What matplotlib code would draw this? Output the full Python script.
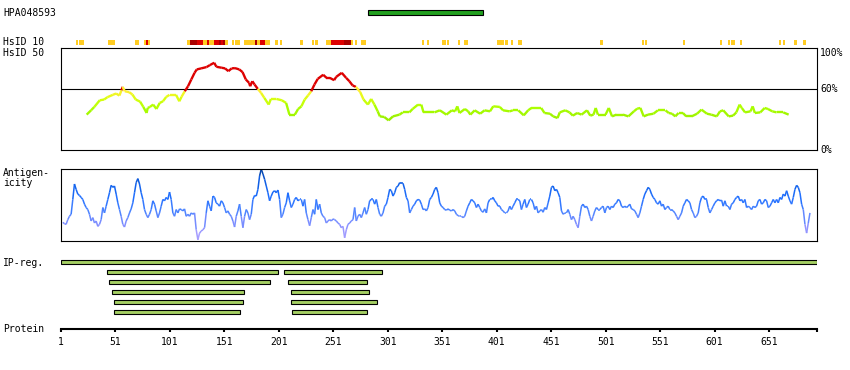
import numpy as np
import matplotlib
matplotlib.use('Agg')
import matplotlib.pyplot as plt
from matplotlib.collections import LineCollection
from matplotlib.colors import LinearSegmentedColormap

# ==========================================
# DATA
# ==========================================
protein_len = 695
antigen_name = 'HPA048593'
antigen_start, antigen_end = 283, 388

# HsID 10 track: segments (start, end, level) 1=yellow 2=red 3=dark red
h10_start = [15, 17.5, 44, 69, 77, 79, 81, 117, 119, 126, 131, 135, 137, 141, 146, 148, 150, 152,
             158, 161, 169, 179, 181, 184, 188, 197.5, 202, 220, 231, 234,
             244, 249, 261, 267, 271, 276, 332, 337, 351, 355.4, 365.5, 371, 401, 408.6, 414, 420.6,
             496, 534.5, 537.3, 572, 606, 613.4, 616, 624.4, 660, 664, 674, 682]
h10_end = [16.6, 22, 51, 73, 79, 81, 83, 119, 126, 131, 135, 137, 141, 146, 148, 150, 152, 154,
           160, 165, 179, 181, 184, 188, 193, 200, 204, 223, 233, 237,
           249, 261, 267, 269, 273, 281, 334, 339, 354.5, 357, 367.3, 375, 407.6, 411.3, 416, 424.3,
           498.6, 536.4, 539, 574, 608, 615.2, 620, 626.2, 662, 666, 677, 685]
h10_level = [1, 1, 1, 1, 1, 2, 1, 1, 3, 2, 1, 2, 1, 2, 3, 2, 3, 1,
             1, 1, 1, 3, 1, 2, 1, 1, 1, 1, 1, 1,
             1, 2, 3, 1, 1, 1, 1, 1, 1, 1, 1, 1, 1, 1, 1, 1,
             1, 1, 1, 1, 1, 1, 1, 1, 1, 1, 1, 1]

# HsID 50 curve (% identity)
h50_res = [25, 29, 32, 37, 41, 44, 49, 52, 55, 57, 58, 60, 64, 67, 70, 74, 77, 80, 81, 83,
           86, 89, 92, 95, 98, 101, 107, 110, 112, 115, 118, 121, 124, 126, 130, 135, 138, 142, 144, 149,
           152, 155, 158, 161, 165, 168, 171, 174, 175, 177, 179, 182, 185, 188, 192, 194, 199, 204, 208, 211,
           216, 219, 222, 225, 228, 231, 234, 237, 242, 245, 248, 252, 254, 259, 263, 266, 269, 272, 276, 279,
           283, 286, 289, 292, 294, 298, 302, 306, 312, 315, 321, 324, 329, 332, 334, 340,
           344, 349, 355, 360, 363, 365, 367, 372, 375, 377, 381, 386, 390, 395, 398, 404, 407, 413, 416, 421,
           426, 430, 433, 438, 442, 445, 450, 453, 457, 459, 464, 468, 471, 475, 479, 484, 487, 490, 492, 494,
           501, 504, 507, 511, 517, 522, 527, 530, 533, 536, 540, 545, 549, 556, 559, 562, 565, 568, 572, 575,
           580, 585, 589, 594, 598, 603, 606, 609, 614, 618, 621, 624, 626, 629, 634, 636, 638, 643, 647, 650,
           654, 658, 664, 669]
h50_pct = [35.0, 39.2, 42.5, 49.0, 49.7, 52.0, 54.3, 55.6, 53.6, 58.8, 62.1, 57.8, 56.9, 54.6, 49.7, 47.7, 42.5, 36.6, 41.5, 42.5,
           44.8, 40.5, 46.4, 48.0, 52.3, 54.3, 54.3, 48.0, 52.3, 57.8, 62.7, 69.3, 75.8, 79.1, 80.1, 81.4, 83.3, 85.6, 81.7, 80.7,
           80.1, 77.4, 80.1, 80.4, 79.1, 76.5, 69.3, 66.0, 62.7, 67.6, 64.4, 60.1, 56.2, 51.3, 44.8, 50.3, 50.3, 49.0, 46.4, 35.0,
           35.0, 40.5, 43.1, 49.7, 53.6, 57.8, 64.4, 69.9, 73.9, 70.9, 70.9, 68.6, 71.9, 75.8, 70.9, 67.6, 63.4, 62.1, 56.9, 49.7,
           44.8, 50.3, 44.8, 38.2, 33.3, 32.7, 29.4, 33.3, 35.0, 37.2, 37.2, 40.5, 44.8, 44.8, 37.2, 37.2,
           37.2, 39.2, 35.0, 39.2, 38.2, 43.1, 36.6, 40.5, 38.2, 35.0, 39.2, 35.9, 39.2, 38.2, 43.1, 42.5, 39.2, 38.2, 39.2, 39.2,
           34.3, 39.2, 41.5, 41.5, 41.5, 36.6, 35.9, 33.3, 31.7, 37.2, 39.2, 37.2, 34.0, 36.6, 35.0, 39.2, 34.0, 35.0, 41.5, 35.0,
           35.0, 41.5, 33.3, 35.0, 35.0, 33.3, 38.2, 40.8, 41.5, 33.3, 35.0, 35.9, 39.2, 39.2, 36.6, 35.9, 33.3, 36.6, 36.6, 33.3,
           33.3, 35.9, 39.9, 35.9, 35.0, 33.3, 38.2, 39.2, 33.3, 34.0, 37.2, 44.8, 41.5, 37.2, 38.2, 43.1, 36.6, 37.2, 41.5, 40.5,
           38.2, 37.2, 37.2, 35.0]

# Antigenicity score (arb. units), sampled every 1.53 residues from residue 3.1
anti_first, anti_step = 3.1, 1.53
anti_score = [27, 25, 24, 31, 36, 39, 61, 84, 76, 69, 67, 64, 61, 54, 49, 46, 39, 29, 34, 26,
              29, 21, 24, 31, 49, 41, 51, 61, 71, 82, 79, 81, 69, 56, 46, 36, 24, 20, 29, 34,
              41, 47, 56, 71, 86, 92, 84, 71, 61, 46, 39, 34, 39, 46, 59, 54, 44, 34, 41, 51,
              61, 59, 64, 61, 72, 61, 41, 36, 46, 41, 47, 46, 44, 47, 36, 39, 36, 41, 39, 41,
              16, 1, 11, 14, 16, 19, 41, 59, 51, 44, 66, 64, 56, 54, 51, 59, 56, 49, 41, 44,
              39, 36, 29, 20, 36, 44, 54, 36, 19, 36, 46, 41, 31, 39, 61, 67, 66, 76, 96, 106,
              99, 91, 81, 71, 59, 66, 72, 74, 71, 75, 61, 34, 39, 49, 56, 71, 59, 49, 54, 61,
              64, 59, 61, 61, 51, 61, 41, 31, 22, 34, 46, 39, 61, 46, 54, 41, 36, 34, 26, 29,
              31, 29, 32, 31, 29, 26, 24, 19, 21, 4, 16, 24, 26, 29, 31, 49, 29, 36, 39, 34,
              41, 49, 39, 46, 59, 61, 61, 54, 61, 49, 39, 36, 41, 51, 54, 64, 76, 74, 66, 71,
              79, 81, 86, 85, 85, 76, 64, 59, 41, 46, 51, 54, 59, 61, 60, 54, 46, 47, 44, 49,
              61, 64, 69,
              76, 79, 71, 56, 51, 49, 46, 45, 47, 45, 44, 46, 44, 39, 37, 36, 36, 34, 36, 44,
              51, 56, 61, 59, 56, 49, 54, 49, 44, 42, 47, 41, 56, 61, 61, 64, 59, 56, 51, 51,
              46, 44, 41, 41, 44, 51, 46, 51, 56, 61, 61, 59, 46, 54, 61, 49, 54, 61, 61, 56,
              46, 51, 41, 44, 46, 42, 49, 46, 56, 66, 79, 81, 74, 76, 71, 64, 44, 39, 41, 41,
              46, 39, 31, 36, 31, 24, 19, 36, 51, 54, 49, 51, 46, 36, 29, 36, 44, 49, 46, 46,
              49, 51, 41, 49, 51, 46, 51, 49, 54, 56, 61, 59, 51, 49, 51, 49, 51, 54, 47, 46,
              44, 39, 34, 41, 51, 61, 69, 74, 79, 76, 69, 64, 61, 56, 54, 59, 51, 54, 46, 49,
              51, 46, 46, 44, 41, 36, 31, 36, 41, 51, 56, 61, 59, 56, 46, 41, 34, 36, 41, 56,
              64, 66, 61, 61, 49, 41, 46, 51, 56, 59, 61, 59, 60, 51, 59, 51, 51, 46, 54, 56,
              61, 64, 66, 59, 61, 56, 61, 49, 51, 49, 46, 51, 49, 51, 59, 61, 54, 56, 61, 59,
              49, 51, 56, 61, 56, 61, 56, 64, 61, 69, 66, 74, 66, 59, 54, 64, 76, 82, 79, 71,
              54, 46, 24, 11, 26, 41]

# IP-reg rows: list of (start, end) per row
ip_rows = [
    [(1, 695)],
    [(43, 200), (206, 296)],
    [(45, 193), (209, 282)],
    [(48, 169), (212, 284)],
    [(50, 168), (212, 291)],
    [(50, 165), (213, 282)],
]

tick_res = [1, 51, 101, 151, 201, 251, 301, 351, 401, 451, 501, 551, 601, 651]

# ==========================================
# LAYOUT
# ==========================================
W, H = 850, 370
fig = plt.figure(figsize=(W / 100, H / 100), dpi=100)
MONO = 'DejaVu Sans Mono'
FS = 7


def box(x0, y0, x1, y1):
    # pixel box (top-left origin) -> figure fraction rect
    return [x0 / W, 1 - y1 / H, (x1 - x0) / W, (y1 - y0) / H]


def clean(ax):
    ax.set_xlim(1, protein_len)
    ax.set_xticks([])
    ax.set_yticks([])
    for s in ax.spines.values():
        s.set_visible(False)
    ax.patch.set_alpha(0)


# --- antigen bar
ax_ag = fig.add_axes(box(61, 8, 817, 17))
clean(ax_ag)
ax_ag.set_ylim(0, 1)
ax_ag.barh(0.5, antigen_end - antigen_start, left=antigen_start, height=0.55,
           color='#22a020', edgecolor='black', linewidth=0.8)

# --- HsID 10 track
ax_h10 = fig.add_axes(box(61, 40, 817, 45))
clean(ax_h10)
ax_h10.set_ylim(0, 1)
lvl_col = {1: '#ffcc22', 2: '#dd0000', 3: '#aa0000'}
for s, e, l in zip(h10_start, h10_end, h10_level):
    ax_h10.bar(s, 1, width=e - s, align='edge', color=lvl_col[l], linewidth=0)

# --- HsID 50 panel
ax_h50 = fig.add_axes(box(60.5, 48, 817, 150.5))
ax_h50.set_xlim(1, protein_len)
ax_h50.set_ylim(0, 100)
ax_h50.set_xticks([])
ax_h50.set_yticks([])
for s in ax_h50.spines.values():
    s.set_linewidth(0.8)
ax_h50.axhline(60, color='black', lw=0.8)

green_cmap = LinearSegmentedColormap.from_list(
    'hsid', [(0, '#99ee00'), (0.4, '#aaff00'), (0.75, '#ddff11'), (1, '#ffee33')])
pts = np.column_stack([h50_res, h50_pct])
segs = np.stack([pts[:-1], pts[1:]], axis=1)
mid = (np.array(h50_pct[:-1]) + np.array(h50_pct[1:])) / 2
cols = [('#dd0000' if v >= 60 else green_cmap(np.clip((v - 30) / 28, 0, 1))) for v in mid]
ax_h50.add_collection(LineCollection(segs, colors=cols, linewidths=1.7, capstyle='butt'))

ytr = ax_h50.get_yaxis_transform()
ax_h50.text(1.004, 100, '100%', transform=ytr, va='top', ha='left', fontsize=FS, family=MONO)
ax_h50.text(1.004, 60, '60%', transform=ytr, va='center', ha='left', fontsize=FS, family=MONO)
ax_h50.text(1.004, 0, '0%', transform=ytr, va='center', ha='left', fontsize=FS, family=MONO)

# --- Antigenicity panel
ax_an = fig.add_axes(box(60.5, 168.5, 817, 240.5))
ax_an.set_xlim(1, protein_len)
ax_an.set_ylim(0, 107)
ax_an.set_xticks([])
ax_an.set_yticks([])
for s in ax_an.spines.values():
    s.set_linewidth(0.8)
anti_pos = anti_first + anti_step * np.arange(len(anti_score))
blue_cmap = LinearSegmentedColormap.from_list(
    'anti', [(0, '#b4a4ff'), (0.2, '#8a90ff'), (0.4, '#4c84ff'), (0.6, '#1f6fff'),
             (0.8, '#0f5fe6'), (1, '#003c9c')])
pts = np.column_stack([anti_pos, anti_score])
segs = np.stack([pts[:-1], pts[1:]], axis=1)
mid = (np.array(anti_score[:-1]) + np.array(anti_score[1:])) / 2 / 107
ax_an.add_collection(LineCollection(segs, colors=blue_cmap(mid), linewidths=1.1))

# --- IP-reg rows
ax_ip = fig.add_axes(box(61, 257.3, 817, 317.3))
clean(ax_ip)
ax_ip.set_ylim(len(ip_rows) - 0.5, -0.5)
for i, row in enumerate(ip_rows):
    for s, e in row:
        ax_ip.barh(i, e - s, left=s, height=0.4, color='#a5cf63',
                   edgecolor='black', linewidth=0.8)

# --- Protein axis
ax_pr = fig.add_axes(box(61, 310, 817, 329.3))
ax_pr.set_xlim(1, protein_len)
ax_pr.set_yticks([])
for k in ['top', 'left', 'right']:
    ax_pr.spines[k].set_visible(False)
ax_pr.spines['bottom'].set_linewidth(1.5)
ax_pr.patch.set_alpha(0)
ax_pr.set_xticks(tick_res + [protein_len])
ax_pr.set_xticklabels([str(t) for t in tick_res] + [''], fontsize=FS, family=MONO)
ax_pr.tick_params(axis='x', direction='out', length=2.5, width=1.5, pad=3)

# --- left labels
def label(y, txt):
    fig.text(3 / W, 1 - y / H, txt, va='center', ha='left', fontsize=FS, family=MONO)


label(12.7, antigen_name)
label(42.3, 'HsID 10')
label(52.5, 'HsID 50')
label(172.5, 'Antigen-')
label(183, 'icity')
label(263.5, 'IP-reg.')
label(329.5, 'Protein')

fig.savefig('out.png', dpi=100)
